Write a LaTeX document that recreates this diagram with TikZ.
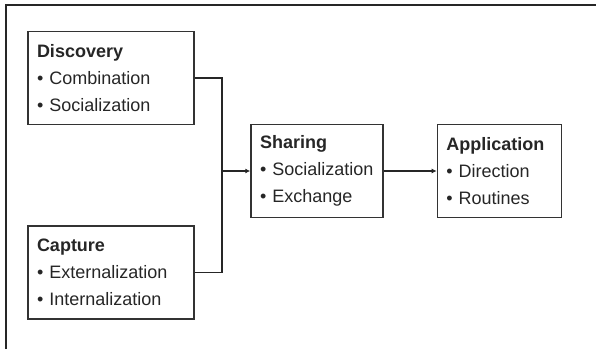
\documentclass[tikz,border=0pt]{standalone}
\usepackage{fontspec}
\setmainfont{Liberation Sans}
\usepackage{tikz}
\usetikzlibrary{positioning,arrows.meta}

\begin{document}
\begin{tikzpicture}[x=1pt, y=-1pt, line width=1.4pt,
    stage/.style = {draw=black!80, align=left, inner xsep=9pt, inner ysep=0pt,
        minimum height=93pt, text=black!85,
        font=\fontsize{18}{27}\selectfont},
    link/.style = {draw=black!85, line width=1.2pt}]
            \useasboundingbox (0,0) rectangle (596,349);
            \draw[black!85] (6,349) -- (6,5) -- (596,5);

            \node[stage, minimum width=166pt, text width=148pt] (disc) at (111,78) {\textbf{Discovery}\\• Combination\\• Socialization};
            \node[stage, minimum width=166pt, text width=148pt] (capt) at (111,272.5) {\textbf{Capture}\\• Externalization\\• Internalization};
            \node[stage, minimum width=132pt, text width=114pt] (shar) at (317,171) {\textbf{Sharing}\\• Socialization\\• Exchange};
            \node[stage, minimum width=124pt, text width=106pt] (appl) [right=53pt of shar] {\textbf{Application}\\• Direction\\• Routines};
            \coordinate (join) at (222,171);

            \draw[link] (disc) -| (join);
            \draw[link] (capt) -| (join);
            \draw[link, -{Latex[length=5pt, width=5pt]}] (join) -- (shar);
            \draw[link, -{Latex[length=5pt, width=5pt]}] (shar) -- (appl);
        \end{tikzpicture}
\end{document}
